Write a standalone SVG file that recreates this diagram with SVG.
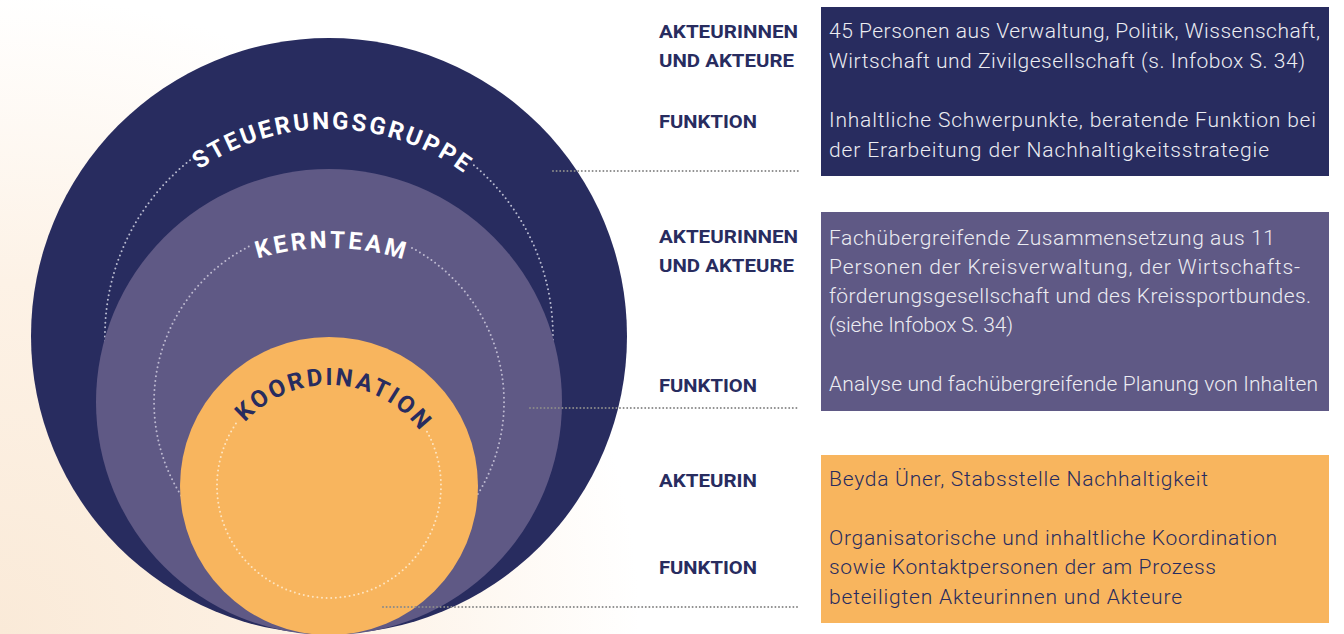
<svg xmlns="http://www.w3.org/2000/svg" width="1344" height="634" viewBox="0 0 1344 634">
  <defs>
    <radialGradient id="bg" cx="0" cy="634" r="640" gradientUnits="userSpaceOnUse">
      <stop offset="0" stop-color="#faead8"/>
      <stop offset="0.55" stop-color="#fdf2e6"/>
      <stop offset="1" stop-color="#ffffff"/>
    </radialGradient>
    <path id="arcSteuer" d="M 102 356 A 227 227 0 0 1 556 356"/>
    <path id="arcKern" d="M 82 495 A 247 247 0 0 1 576 495"/>
    <path id="arcKoord" d="M 216 498 A 113 113 0 0 1 442 498"/>
  </defs>
  <style>
    .ring-dots { fill: none; stroke-width: 2; stroke-linecap: round; stroke-dasharray: 0 4.6; }
    .conn { fill: none; stroke: #8a8a8a; stroke-width: 2; stroke-linecap: round; stroke-dasharray: 0 3.6; }
    .ring-label { font-family: Roboto, "Liberation Sans", sans-serif; font-weight: 700; font-size: 24px; }
    .lbl { font-family: Roboto, "Liberation Sans", sans-serif; font-weight: 700; font-size: 19px; fill: #282c5f; }
    .txt { font-family: Roboto, "Liberation Sans", sans-serif; font-weight: 300; font-size: 21px; }
    .light { fill: #ececf2; }
    .dark { fill: #282c5f; }
  </style>

  <rect x="0" y="0" width="1344" height="634" fill="#ffffff"/>
  <rect x="0" y="0" width="660" height="634" fill="url(#bg)"/>

  <g id="node-steuerungsgruppe">
    <circle cx="329" cy="336" r="298" fill="#282c5f"/>
    <path class="ring-dots" stroke="#b9bbd0" d="M 473.9 165.2 A 224 224 0 1 1 192.9 158.0"/>
    <text class="ring-label" fill="#ffffff"><textPath href="#arcSteuer" startOffset="50.4%" text-anchor="middle" textLength="282">STEUERUNGSGRUPPE</textPath></text>
  </g>

  <g id="node-kernteam">
    <circle cx="329" cy="402" r="233" fill="#5f5985"/>
    <path class="ring-dots" stroke="#bdb9d0" d="M 412 247.9 A 175 175 0 1 1 250.1 245.8"/>
    <text class="ring-label" fill="#ffffff"><textPath href="#arcKern" startOffset="50.2%" text-anchor="middle" textLength="148">KERNTEAM</textPath></text>
  </g>

  <g id="node-koordination">
    <circle cx="329" cy="486" r="149" fill="#f8b55e"/>
    <path class="ring-dots" stroke="#fde4c0" d="M 427 431.7 A 112 112 0 1 1 238 420.6"/>
    <text class="ring-label dark" font-size="26"><textPath href="#arcKoord" startOffset="51.5%" text-anchor="middle" textLength="200">KOORDINATION</textPath></text>
  </g>

  <g id="connectors">
    <line class="conn" x1="553" y1="171" x2="798" y2="171"/>
    <line class="conn" x1="530" y1="408" x2="798" y2="408"/>
    <line class="conn" x1="383" y1="607" x2="798" y2="607"/>
  </g>

  <g id="box-steuerungsgruppe">
    <rect x="821" y="7" width="508" height="169" fill="#282c5f"/>
    <text class="lbl" x="659" y="38" textLength="139" lengthAdjust="spacingAndGlyphs">AKTEURINNEN</text>
    <text class="lbl" x="659" y="67" textLength="135" lengthAdjust="spacingAndGlyphs">UND AKTEURE</text>
    <text class="lbl" x="659" y="128" textLength="98" lengthAdjust="spacingAndGlyphs">FUNKTION</text>
    <text class="txt light" x="829" y="38" textLength="491">45 Personen aus Verwaltung, Politik, Wissenschaft,</text>
    <text class="txt light" x="829" y="68" textLength="476">Wirtschaft und Zivilgesellschaft (s. Infobox S. 34)</text>
    <text class="txt light" x="829" y="127" textLength="487">Inhaltliche Schwerpunkte, beratende Funktion bei</text>
    <text class="txt light" x="829" y="157" textLength="440">der Erarbeitung der Nachhaltigkeitsstrategie</text>
  </g>

  <g id="box-kernteam">
    <rect x="821" y="212" width="508" height="199" fill="#5f5985"/>
    <text class="lbl" x="659" y="243" textLength="139" lengthAdjust="spacingAndGlyphs">AKTEURINNEN</text>
    <text class="lbl" x="659" y="272" textLength="135" lengthAdjust="spacingAndGlyphs">UND AKTEURE</text>
    <text class="lbl" x="659" y="392" textLength="98" lengthAdjust="spacingAndGlyphs">FUNKTION</text>
    <text class="txt light" x="829" y="245" textLength="446">Fachübergreifende Zusammensetzung aus 11</text>
    <text class="txt light" x="829" y="274" textLength="471">Personen der Kreisverwaltung, der Wirtschafts-</text>
    <text class="txt light" x="829" y="303" textLength="482">förderungsgesellschaft und des Kreissportbundes.</text>
    <text class="txt light" x="829" y="332" textLength="184">(siehe Infobox S. 34)</text>
    <text class="txt light" x="829" y="391" textLength="489">Analyse und fachübergreifende Planung von Inhalten</text>
  </g>

  <g id="box-koordination">
    <rect x="821" y="455" width="508" height="168" fill="#f8b55e"/>
    <text class="lbl" x="659" y="487" textLength="98" lengthAdjust="spacingAndGlyphs">AKTEURIN</text>
    <text class="lbl" x="659" y="574" textLength="98" lengthAdjust="spacingAndGlyphs">FUNKTION</text>
    <text class="txt dark" x="829" y="486" textLength="379">Beyda Üner, Stabsstelle Nachhaltigkeit</text>
    <text class="txt dark" x="829" y="545" textLength="448">Organisatorische und inhaltliche Koordination</text>
    <text class="txt dark" x="829" y="574" textLength="387">sowie Kontaktpersonen der am Prozess</text>
    <text class="txt dark" x="829" y="604" textLength="353">beteiligten Akteurinnen und Akteure</text>
  </g>
</svg>
